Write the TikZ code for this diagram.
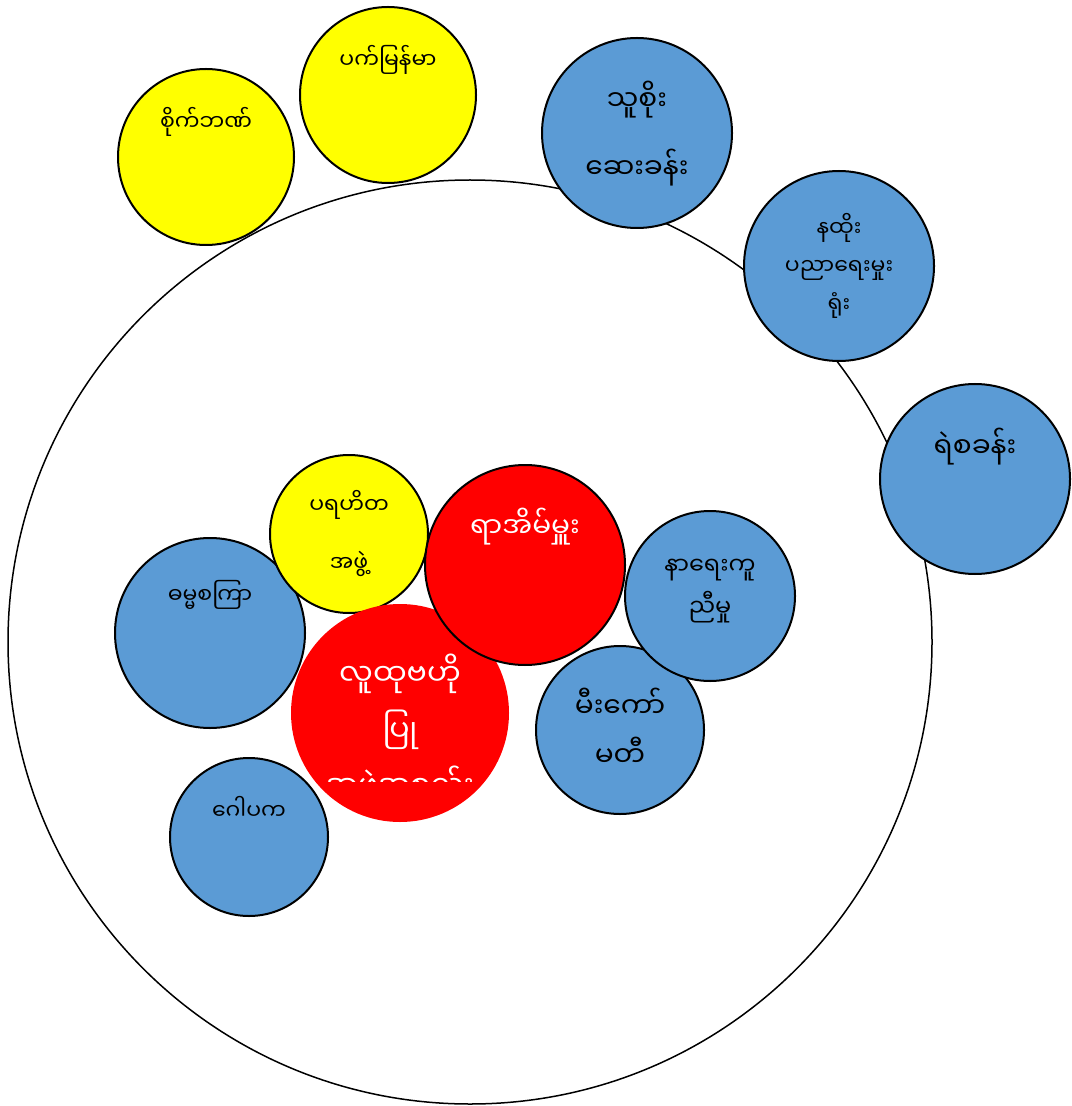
\documentclass[tikz,border=0pt]{standalone}
\usepackage{fontspec}
\usepackage{tikz}
\newfontfamily\mm[Script=Myanmar]{Noto Sans Myanmar UI}
\definecolor{ballblue}{HTML}{5B9BD5}
\definecolor{ballyellow}{HTML}{FFFF00}
\definecolor{ballred}{HTML}{FF0000}

\begin{document}
\begin{tikzpicture}
  [x=0.5pt,y=-0.5pt,every node/.style={inner sep=0pt,outer sep=0pt},
   ball/.style={circle,draw=black,line width=1pt},
   blueball/.style={ball,fill=ballblue},
   yellowball/.style={ball,fill=ballyellow},
   redball/.style={ball,fill=ballred},
   lbl/.style 2 args={font=\mm\fontsize{#1}{#2}\selectfont,align=center,text=black},
   wlbl/.style 2 args={lbl={#1}{#2},text=white}]
  \useasboundingbox (0,0) rectangle (1071,1106);

  % the village ring
  \node[circle,draw=black,line width=0.75pt,minimum size=462pt] (big) at (470,642) {};

  % outside the ring
  \node[yellowball,minimum size=88pt] (bank) at (206,157) {};
  \node[yellowball,minimum size=88pt] (myanmar) at (388,95) {};
  \node[blueball,minimum size=95pt] (clinic) at (637,133) {};
  \node[blueball,minimum size=95pt] (eduoff) at (839,266) {};
  \node[blueball,minimum size=95pt] (police) at (975,479) {};

  % inside the ring
  \node[blueball,minimum size=79pt] (trustee) at (249,837) {};
  \node[blueball,minimum size=95pt] (dhamma) at (210,633) {};
  \node[yellowball,minimum size=79pt] (charity) at (349,534) {};
  \node[redball,draw=none,minimum size=109pt] (cbo) at (400,713) {};
  \node[redball,minimum size=100pt] (headman) at (525,565) {};
  \node[blueball,minimum size=84pt] (firecom) at (620,730) {};
  \node[blueball,minimum size=85pt] (funeral) at (710,596) {};

  % labels
  \node[lbl={11}{14}] (bankl) at (206,122) {စိုက်ဘဏ်};
  \node[lbl={11}{14}] (myanmarl) at (388,60) {ပက်မြန်မာ};
  \node[lbl={14}{34}] (clinicl) at (637,134) {သူစိုး\\ဆေးခန်း};
  \node[lbl={11}{19}] (eduoffl) at (839,266) {နထိုး\\ပညာရေးမှုး\\ရုံး};
  \node[lbl={14}{17}] (policel) at (975,447) {ရဲစခန်း};
  \node[lbl={11}{29}] (charityl) at (349,534) {ပရဟိတ\\အဖွဲ့};
  \node[wlbl={14}{17}] (headmanl) at (525,527) {ရာအိမ်မှူး};
  \node[lbl={11}{14}] (dhammal) at (210,595) {ဓမ္မစကြာ};
  \begin{scope}
    \clip (290,600) rectangle (512,781);
    \node[wlbl={15}{28}] (cbol) at (400,730) {လူထုဗဟို\\ပြု\\အဖွဲ့အစည်း};
  \end{scope}
  \node[lbl={11}{14}] (trusteel) at (249,808) {ဂေါပက};
  \node[lbl={12}{21}] (funerall) at (710,591) {နာရေးကူ\\ညီမှု};
  \node[lbl={14}{24.5}] (firecoml) at (620,727) {မီးကော်\\မတီ};

\end{tikzpicture}
\end{document}
